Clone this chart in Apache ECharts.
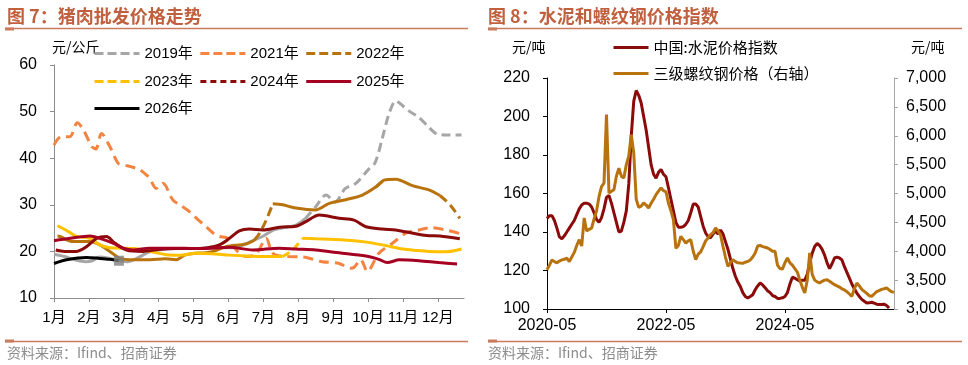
<!DOCTYPE html>
<html><head><meta charset="utf-8">
<script src="https://cdn.jsdelivr.net/npm/echarts@6/dist/echarts.min.js"></script>
<style>html,body{margin:0;padding:0;background:#fff}#c{width:968px;height:365px}</style>
</head><body><div id="c"></div>
<script>
// ---------- Figure 7: pork wholesale price (元/公斤), x = month position ----------
const monthTicks = [1,2,3,4,5,6,7,8,9,10,11,12];
const x2019 = [1.0,1.3,1.6,1.9,2.1,2.3,2.6,2.9,3.1,3.4,3.7,4.0,4.5,5.0,5.5,6.0,6.3,6.6,7.0,7.3,7.6,7.95,8.2,8.5,8.8,9.05,9.35,9.65,10.0,10.2,10.4,10.6,10.8,11.0,11.2,11.45,11.7,11.95,12.3,12.68];
const v2019 = [19.4,18.9,18.2,17.8,18.0,18.8,18.5,18.0,17.8,18.6,19.8,20.3,20.6,20.6,20.8,20.8,21.0,22.0,23.3,24.6,25.1,25.7,27.0,29.6,32.1,30.6,33.5,34.6,37.5,39.0,44.0,49.5,52.3,51.2,50.0,48.8,47.0,45.3,45.0,45.0];
const x2021 = [1.0,1.2,1.45,1.67,1.85,2.08,2.2,2.36,2.6,2.84,3.03,3.2,3.46,3.65,3.75,3.93,4.12,4.41,4.65,4.89,5.1,5.36,5.55,5.74,5.98,6.22,6.5,6.8,7.08,7.27,7.65,8.12,8.69,9.17,9.5,9.6,9.79,9.98,10.31,10.69,11.08,11.46,11.84,12.22,12.7];
const v2021 = [42.8,44.6,44.6,47.6,46.0,42.5,42.0,45.3,42.5,38.9,38.5,38.2,37.5,36.4,35.6,33.5,34.6,31.0,29.8,28.5,27.0,25.3,24.0,23.2,22.8,20.3,18.9,19.5,22.8,19.6,18.9,18.8,17.8,17.4,16.4,16.6,18.2,15.7,19.6,21.7,23.9,24.6,25.1,24.6,23.7];
const x2022 = [1.1,1.17,1.55,2.03,2.31,2.6,2.89,3.27,3.74,4.2,4.5,4.74,4.95,5.5,5.93,6.5,6.74,6.9,7.08,7.27,7.55,7.93,8.5,8.89,9.36,9.84,10.22,10.46,10.8,11.27,11.74,12.06,12.35,12.63];
const v2022 = [23.3,23.2,22.1,22.1,21.4,20.0,18.5,18.2,18.2,18.4,18.2,19.2,19.5,19.9,21.0,21.6,22.4,24.0,26.7,30.2,30.0,29.3,28.9,30.3,31.1,32.1,33.8,35.3,35.5,34.1,33.2,32.0,30.0,27.1];
const x2023 = [1.1,1.4,1.65,2.03,2.31,2.6,2.9,3.3,3.74,4.22,4.6,5.08,5.5,6.03,6.5,6.98,7.55,7.84,8.12,8.5,8.89,9.4,9.84,10.41,11.0,11.4,11.74,12.22,12.68];
const v2023 = [25.5,24.3,23.2,22.8,21.4,20.8,20.7,20.6,20.0,19.3,19.2,19.6,19.5,19.2,19.0,18.9,18.9,20.3,22.8,22.7,22.6,22.4,22.1,21.4,20.5,20.2,20.0,19.9,20.5];
const x2024 = [1.05,1.3,1.65,1.93,2.22,2.5,2.74,3.08,3.55,4.0,4.5,5.0,5.4,5.74,6.03,6.31,6.6,6.98,7.46,7.93,8.22,8.6,9.17,9.6,9.94,10.41,10.79,11.08,11.68,12.06,12.63];
const v2024 = [20.3,20.0,20.0,21.0,22.8,23.2,21.8,20.3,20.0,20.4,20.6,20.6,20.8,21.4,22.8,24.4,24.8,24.6,25.2,25.4,26.4,27.8,27.1,26.7,25.3,24.8,24.6,24.2,23.4,23.3,22.7];
const x2025 = [1.0,1.46,2.03,2.31,2.69,2.98,3.27,3.74,4.5,5.0,5.5,6.03,6.7,7.46,7.93,8.5,9.17,9.94,10.31,10.55,10.9,11.46,12.03,12.55];
const v2025 = [22.3,22.8,23.3,22.8,21.8,20.7,20.3,20.7,20.7,20.6,20.7,20.9,20.3,20.7,20.5,20.3,19.7,19.0,18.3,17.6,18.2,18.0,17.6,17.3];
const x2026 = [1.0,1.36,1.93,2.31,2.6,2.86];
const v2026 = [17.4,18.2,18.7,18.5,18.3,18.0];

// ---------- Figure 8: cement index & rebar price, semi-monthly ----------
const dates = [
'2020-05-01','2020-05-16','2020-06-01','2020-06-16','2020-07-01','2020-07-16','2020-08-01','2020-08-16','2020-09-01','2020-09-16','2020-10-01','2020-10-16','2020-11-01','2020-11-16','2020-12-01','2020-12-16',
'2021-01-01','2021-01-16','2021-02-01','2021-02-16','2021-03-01','2021-03-16','2021-04-01','2021-04-16','2021-05-01','2021-05-16','2021-06-01','2021-06-16','2021-07-01','2021-07-16','2021-08-01','2021-08-16','2021-09-01','2021-09-16','2021-10-01','2021-10-16','2021-11-01','2021-11-16','2021-12-01','2021-12-16',
'2022-01-01','2022-01-16','2022-02-01','2022-02-16','2022-03-01','2022-03-16','2022-04-01','2022-04-16','2022-05-01','2022-05-16','2022-06-01','2022-06-16','2022-07-01','2022-07-16','2022-08-01','2022-08-16','2022-09-01','2022-09-16','2022-10-01','2022-10-16','2022-11-01','2022-11-16','2022-12-01','2022-12-16',
'2023-01-01','2023-01-16','2023-02-01','2023-02-16','2023-03-01','2023-03-16','2023-04-01','2023-04-16','2023-05-01','2023-05-16','2023-06-01','2023-06-16','2023-07-01','2023-07-16','2023-08-01','2023-08-16','2023-09-01','2023-09-16','2023-10-01','2023-10-16','2023-11-01','2023-11-16','2023-12-01','2023-12-16',
'2024-01-01','2024-01-16','2024-02-01','2024-02-16','2024-03-01','2024-03-16','2024-04-01','2024-04-16','2024-05-01','2024-05-16','2024-06-01','2024-06-16','2024-07-01','2024-07-16','2024-08-01','2024-08-16','2024-09-01','2024-09-16','2024-10-01','2024-10-16','2024-11-01','2024-11-16','2024-12-01','2024-12-16',
'2025-01-01','2025-01-16','2025-02-01','2025-02-16','2025-03-01','2025-03-16','2025-04-01','2025-04-16','2025-05-01','2025-05-16','2025-06-01','2025-06-16','2025-07-01','2025-07-16','2025-08-01','2025-08-16','2025-09-01','2025-09-16','2025-10-01','2025-10-16','2025-11-01','2025-11-16','2025-12-01','2025-12-16',
'2026-01-01','2026-01-16','2026-02-01','2026-02-16','2026-03-01'];
const cement = [
147,148.5,148.5,146,142,137.5,136.5,138,140,142,
144,146,149,152,154,155,155,154.5,153,150,
146.5,145,147.5,152,158,159,155,150,145,140,
140.5,145,151,165,190,208,213.5,211,207,200,
193,184,175,170,168,171,172.5,170,168.7,163,
157,151,145,142.5,142.5,142.8,144,146,150,154.5,
154.5,153,148,143,139.5,137.5,137,139,140.5,139,
141,139,135,131,126,121,117,114,111.7,108.5,
106.5,105.7,106.5,107.4,110,112,113.5,112.5,111,109.5,
108.5,107,106.5,105.5,105.5,105.8,106.5,108.5,113,116.5,
116,115.2,114.5,115,115,118,124,129,132.5,134,
133,131,128,124,121,123.5,126.5,127,126.5,125.5,
122,119,116,113,110.5,108.3,106.5,105,104,103.1,
103.2,103.5,103,102.5,102.3,102.3,102.5,101.8,100.5,null,
null];
const rebar = [
3680,3760,3850,3820,3800,3830,3850,3860,3880,3820,
3900,3980,4100,4200,4090,4576,4350,4380,4400,4560,
4700,4950,5120,5180,6365,5009,5040,5066,5300,5440,
5300,5269,5500,5650,6019,5700,4900,4760,4780,4836,
4800,4749,4830,4900,4980,5040,5096,5050,5030,4836,
4700,4547,4050,4100,4257,4200,4143,4180,4200,4000,
3854,3950,3990,4080,4180,4230,4287,4320,4403,4350,
4290,4084,3900,3738,3800,3854,3820,3800,3797,3790,
3810,3824,3850,3900,3970,4090,4100,4080,4070,4057,
4030,4000,3998,3760,3700,3690,3800,3883,3800,3760,
3700,3640,3500,3380,3277,3500,3970,3600,3500,3470,
3450,3480,3500,3507,3480,3450,3421,3400,3380,3350,
3330,3300,3260,3218,3350,3450,3400,3340,3305,3270,
3230,3218,3260,3300,3320,3340,3350,3364,3330,3300,
3288];
const dateTicks = ['2020-05-01','2022-05-01','2024-05-01'];

// ---------- styling ----------
const NUM = "'Liberation Sans', Arial, 'Noto Sans CJK SC', sans-serif";
const CJK = "'Noto Sans CJK SC', sans-serif";
const TITLE_C = '#c0603e';
const LINE_C = '#c97b5c';

const years = [
  {name:'2019年', xs:x2019, ys:v2019, color:'#a6a6a6', dash:[[8.2,13]], pat:[9,5], lpat:[9,4]},
  {name:'2021年', xs:x2021, ys:v2021, color:'#f4843f', dash:[[0,13]], pat:[10,6], lpat:[9,4]},
  {name:'2022年', xs:x2022, ys:v2022, color:'#b8730e', dash:[[6.7,7.3],[10.1,10.45],[12.15,13]], pat:[9,5], lpat:[9,4]},
  {name:'2023年', xs:x2023, ys:v2023, color:'#ffc000', dash:[[7.6,8.15]], pat:[8,5], lpat:[9,4]},
  {name:'2024年', xs:x2024, ys:v2024, color:'#8b0a0a', dash:[], pat:[6,4], lpat:[6,4]},
  {name:'2025年', xs:x2025, ys:v2025, color:'#a50021', dash:[], pat:null, lpat:null},
  {name:'2026年', xs:x2026, ys:v2026, color:'#000000', dash:[], pat:null, lpat:null}
];

function split(xs, ys, ranges){
  const segD = [];
  for (let i=0;i<xs.length-1;i++){
    const mid=(xs[i]+xs[i+1])/2;
    segD.push(ranges.some(r=>mid>=r[0]&&mid<=r[1]));
  }
  const solid=[], dashed=[]; let anyS=false, anyD=false;
  for (let i=0;i<xs.length;i++){
    const l = i>0?segD[i-1]:undefined, r=i<xs.length-1?segD[i]:undefined;
    const s = l===false||r===false, d = l===true||r===true;
    if(s) anyS=true; if(d) anyD=true;
    solid.push([xs[i], s?ys[i]:'-']);
    dashed.push([xs[i], d?ys[i]:'-']);
  }
  return {solid: anyS?solid:null, dashed: anyD?dashed:null};
}

const series = [];
years.forEach(y=>{
  const p = split(y.xs, y.ys, y.dash);
  const base = {type:'line', name:y.name, xAxisIndex:0, yAxisIndex:0, symbol:'none', smooth:0.3,
    connectNulls:false, color:y.color, animation:false};
  if (p.solid) series.push(Object.assign({}, base, {data:p.solid, lineStyle:{color:y.color, width:3}}));
  if (p.dashed) series.push(Object.assign({}, base, {data:p.dashed, lineStyle:{color:y.color, width:3, type:y.pat}}));
});
series.push({type:'scatter', name:'2026末', xAxisIndex:0, yAxisIndex:0, symbol:'rect', symbolSize:10,
  itemStyle:{color:'#808080'}, z:5, data:[[x2026[x2026.length-1], v2026[v2026.length-1]]], animation:false});
series.push({type:'line', name:'中国:水泥价格指数', xAxisIndex:1, yAxisIndex:1, data:cement, symbol:'none',
  color:'#8b0a0a', lineStyle:{color:'#8b0a0a', width:3}, animation:false});
series.push({type:'line', name:'三级螺纹钢价格（右轴）', xAxisIndex:1, yAxisIndex:2, data:rebar, symbol:'none',
  color:'#b8730e', lineStyle:{color:'#b8730e', width:3}, animation:false});

const HIDE_SYM = {opacity:0, color:'rgba(0,0,0,0)', borderWidth:0};
function legItem(y){
  return {name:y.name, itemStyle:HIDE_SYM, lineStyle:{width:3, color:y.color, type: y.lpat ? y.lpat : 'solid'}};
}
const legCommon = {orient:'horizontal', itemWidth:45, itemHeight:14, itemGap:6, padding:0, selectedMode:false,
  textStyle:{fontSize:15, color:'#000', fontFamily:NUM}};

const option = {
  backgroundColor:'#fff',
  animation:false,
  grid:[{left:54, right:504, top:65, bottom:67}, {left:547, right:74, top:78, bottom:56}],
  xAxis:[
    {type:'value', gridIndex:0, min:1, max:12.75,
      axisLine:{show:true, lineStyle:{color:'#8c8c8c', width:1}},
      axisTick:{show:true, length:4, customValues:monthTicks, lineStyle:{color:'#8c8c8c'}},
      axisLabel:{customValues:monthTicks, formatter:v=>v+'月', fontSize:15, color:'#000', margin:12, fontFamily:NUM},
      splitLine:{show:false}},
    {type:'category', gridIndex:1, data:dates, boundaryGap:false,
      axisLine:{show:true, lineStyle:{color:'#000', width:1}},
      axisTick:{show:true, length:4, interval:(i,v)=>dateTicks.indexOf(v)>=0, lineStyle:{color:'#000'}},
      axisLabel:{interval:(i,v)=>dateTicks.indexOf(v)>=0, formatter:v=>v.slice(0,7), fontSize:16, color:'#000', margin:9, fontFamily:NUM},
      splitLine:{show:false}}
  ],
  yAxis:[
    {type:'value', gridIndex:0, min:10, max:60, interval:10,
      axisLine:{show:true, lineStyle:{color:'#8c8c8c'}},
      axisTick:{show:true, length:4, lineStyle:{color:'#8c8c8c'}},
      axisLabel:{fontSize:16, color:'#000', margin:17, fontFamily:NUM}, splitLine:{show:false}},
    {type:'value', gridIndex:1, min:100, max:220, interval:20,
      axisLine:{show:true, lineStyle:{color:'#000'}},
      axisTick:{show:true, length:4, lineStyle:{color:'#000'}},
      axisLabel:{fontSize:16, color:'#000', margin:17, fontFamily:NUM}, splitLine:{show:false}},
    {type:'value', gridIndex:1, position:'right', min:3000, max:7000, interval:500,
      axisLine:{show:true, lineStyle:{color:'#a6a6a6'}},
      axisTick:{show:true, length:4, lineStyle:{color:'#a6a6a6'}},
      axisLabel:{fontSize:16, color:'#000', margin:12, fontFamily:NUM, formatter:v=>v.toLocaleString('en-US')},
      splitLine:{show:false}}
  ],
  legend:[
    Object.assign({}, legCommon, {left:93, top:46, data:[years[0],years[1],years[2]].map(legItem)}),
    Object.assign({}, legCommon, {left:93, top:74, data:[years[3],years[4],years[5]].map(legItem)}),
    Object.assign({}, legCommon, {left:93, top:101, data:[years[6]].map(legItem)}),
    {orient:'vertical', left:612, top:40, itemWidth:35, itemHeight:14, itemGap:11, padding:0, selectedMode:false,
      textStyle:{fontSize:15, color:'#000', fontFamily:CJK},
      data:[{name:'中国:水泥价格指数', itemStyle:HIDE_SYM, lineStyle:{width:3, color:'#8b0a0a'}},
            {name:'三级螺纹钢价格（右轴）', itemStyle:HIDE_SYM, lineStyle:{width:3, color:'#b8730e'}}]}
  ],
  graphic:[
    {type:'text', x:7, y:16, style:{text:'图 7：猪肉批发价格走势', font:"bold 18px 'Noto Sans CJK SC', sans-serif", fill:TITLE_C, textVerticalAlign:'middle', verticalAlign:'middle'}},
    {type:'text', x:488, y:16, style:{text:'图 8：水泥和螺纹钢价格指数', font:"bold 18px 'Noto Sans CJK SC', sans-serif", fill:TITLE_C, textVerticalAlign:'middle', verticalAlign:'middle'}},
    {type:'line', shape:{x1:5, y1:28.5, x2:468, y2:28.5}, style:{stroke:LINE_C, lineWidth:1.5}},
    {type:'rect', shape:{x:5, y:27.5, width:9, height:3}, style:{fill:LINE_C}},
    {type:'line', shape:{x1:488, y1:28.5, x2:962, y2:28.5}, style:{stroke:LINE_C, lineWidth:1.5}},
    {type:'rect', shape:{x:488, y:27.5, width:9, height:3}, style:{fill:LINE_C}},
    {type:'line', shape:{x1:5, y1:341.5, x2:468, y2:341.5}, style:{stroke:LINE_C, lineWidth:1.5}},
    {type:'rect', shape:{x:5, y:339.5, width:9, height:3}, style:{fill:LINE_C}},
    {type:'line', shape:{x1:488, y1:341.5, x2:962, y2:341.5}, style:{stroke:LINE_C, lineWidth:1.5}},
    {type:'rect', shape:{x:488, y:339.5, width:9, height:3}, style:{fill:LINE_C}},
    {type:'text', x:7, y:353, style:{text:'资料来源：Ifind、招商证券', font:"14px 'Noto Sans CJK SC', sans-serif", fill:'#8c8c8c', textVerticalAlign:'middle', verticalAlign:'middle'}},
    {type:'text', x:488, y:353, style:{text:'资料来源：Ifind、招商证券', font:"14px 'Noto Sans CJK SC', sans-serif", fill:'#8c8c8c', textVerticalAlign:'middle', verticalAlign:'middle'}},
    {type:'text', x:52, y:47, style:{text:'元/公斤', font:"14px 'Noto Sans CJK SC', sans-serif", fill:'#000', textVerticalAlign:'middle', verticalAlign:'middle'}},
    {type:'text', x:512, y:47, style:{text:'元/吨', font:"14px 'Noto Sans CJK SC', sans-serif", fill:'#000', textVerticalAlign:'middle', verticalAlign:'middle'}},
    {type:'text', x:911, y:47, style:{text:'元/吨', font:"14px 'Noto Sans CJK SC', sans-serif", fill:'#000', textVerticalAlign:'middle', verticalAlign:'middle'}}
  ],
  series: series
};
const chart = echarts.init(document.getElementById('c'), null, {renderer:'canvas'});
chart.setOption(option);
</script></body></html>
